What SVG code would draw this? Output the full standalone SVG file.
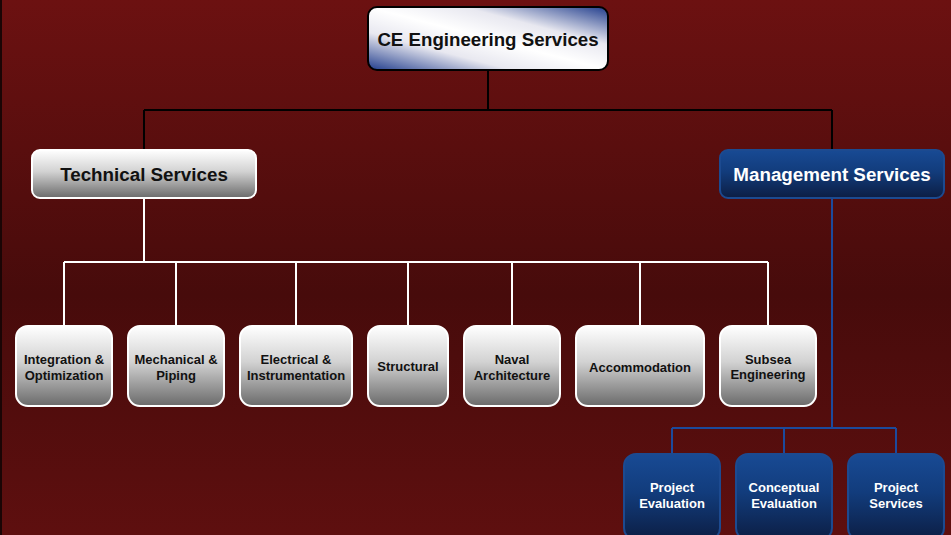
<svg xmlns="http://www.w3.org/2000/svg" width="951" height="535" viewBox="0 0 951 535">
<defs>
<linearGradient id="bg" x1="0" y1="0" x2="0" y2="1">
<stop offset="0" stop-color="#6c1111"/>
<stop offset="0.55" stop-color="#470b0b"/>
<stop offset="1" stop-color="#5e0f0f"/>
</linearGradient>
<linearGradient id="topg" x1="0" y1="1" x2="1" y2="0">
<stop offset="0" stop-color="#203c8c"/>
<stop offset="0.3" stop-color="#e8e8f0"/>
<stop offset="0.5" stop-color="#ffffff"/>
<stop offset="0.7" stop-color="#e8e8f0"/>
<stop offset="1" stop-color="#203c8c"/>
</linearGradient>
<linearGradient id="gray" x1="0" y1="0" x2="0" y2="1">
<stop offset="0" stop-color="#ffffff"/>
<stop offset="0.45" stop-color="#d2d2d2"/>
<stop offset="1" stop-color="#6a6a6a"/>
</linearGradient>
<linearGradient id="blue" x1="0" y1="0" x2="0" y2="1">
<stop offset="0" stop-color="#184a94"/>
<stop offset="0.45" stop-color="#123c7c"/>
<stop offset="1" stop-color="#0c1e44"/>
</linearGradient>
<style>
text{font-family:"Liberation Sans",Arial,sans-serif;font-weight:bold;text-anchor:middle}
.g{fill:url(#gray);stroke:#ffffff;stroke-width:2}
.b{fill:url(#blue);stroke:#1c4a90;stroke-width:2}
.dt{fill:#111111}
.wt{fill:#ffffff}
.leaf{font-size:13px}
.lk{fill:none;stroke:#000000;stroke-width:2}
.lw{fill:none;stroke:#ffffff;stroke-width:2}
.lb{fill:none;stroke:#1c4a9c;stroke-width:2}
</style>
</defs>
<rect x="0" y="0" width="951" height="535" fill="url(#bg)"/>
<rect x="0" y="0" width="2" height="535" fill="#1a0505"/>
<g id="connectors">
<path class="lk" d="M488 70V110M144 110H832M144 110V150M832 110V150"/>
<path class="lw" d="M144 198V262M64 262H768M64 262V326M176 262V326M296 262V326M408 262V326M512 262V326M640 262V326M768 262V326"/>
<path class="lb" d="M832 198V428M672 428H896M672 428V454M784 428V454M896 428V454"/>
</g>
<g id="ce">
<rect x="368" y="7" width="240" height="63" rx="9" fill="url(#topg)" stroke="#000000" stroke-width="2"/>
<text class="dt" x="488" y="46" font-size="18.7">CE Engineering Services</text>
</g>
<g id="technical">
<rect class="g" x="32" y="150" width="224" height="48" rx="8"/>
<text class="dt" x="144" y="181" font-size="18.8">Technical Services</text>
</g>
<g id="management">
<rect class="b" x="720" y="150" width="224" height="48" rx="8"/>
<text class="wt" x="832" y="181" font-size="18.8">Management Services</text>
</g>
<g id="integration">
<rect class="g" x="16" y="326" width="96" height="80" rx="12"/>
<text class="dt leaf" x="64" y="364">Integration &amp;</text>
<text class="dt leaf" x="64" y="380">Optimization</text>
</g>
<g id="mechanical">
<rect class="g" x="128" y="326" width="96" height="80" rx="12"/>
<text class="dt leaf" x="176" y="364">Mechanical &amp;</text>
<text class="dt leaf" x="176" y="380">Piping</text>
</g>
<g id="electrical">
<rect class="g" x="240" y="326" width="112" height="80" rx="12"/>
<text class="dt leaf" x="296" y="364">Electrical &amp;</text>
<text class="dt leaf" x="296" y="380">Instrumentation</text>
</g>
<g id="structural">
<rect class="g" x="368" y="326" width="80" height="80" rx="12"/>
<text class="dt leaf" x="408" y="371">Structural</text>
</g>
<g id="naval">
<rect class="g" x="464" y="326" width="96" height="80" rx="12"/>
<text class="dt leaf" x="512" y="364">Naval</text>
<text class="dt leaf" x="512" y="380">Architecture</text>
</g>
<g id="accommodation">
<rect class="g" x="576" y="326" width="128" height="80" rx="12"/>
<text class="dt leaf" x="640" y="372">Accommodation</text>
</g>
<g id="subsea">
<rect class="g" x="720" y="326" width="96" height="80" rx="12"/>
<text class="dt leaf" x="768" y="364">Subsea</text>
<text class="dt leaf" x="768" y="379">Engineering</text>
</g>
<g id="project-evaluation">
<rect class="b" x="624" y="454" width="96" height="86" rx="12"/>
<text class="wt leaf" x="672" y="492">Project</text>
<text class="wt leaf" x="672" y="508">Evaluation</text>
</g>
<g id="conceptual-evaluation">
<rect class="b" x="736" y="454" width="96" height="86" rx="12"/>
<text class="wt leaf" x="784" y="492">Conceptual</text>
<text class="wt leaf" x="784" y="508">Evaluation</text>
</g>
<g id="project-services">
<rect class="b" x="848" y="454" width="96" height="86" rx="12"/>
<text class="wt leaf" x="896" y="492">Project</text>
<text class="wt leaf" x="896" y="508">Services</text>
</g>
</svg>
